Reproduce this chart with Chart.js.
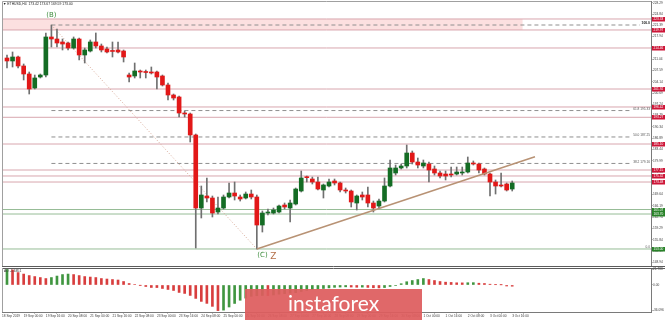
<!DOCTYPE html>
<html>
<head>
<meta charset="utf-8">
<script src="https://cdn.jsdelivr.net/npm/chart.js@4.4.1/dist/chart.umd.min.js"></script>
<style>
  html, body { margin: 0; padding: 0; background: #fff; }
  #wrap { position: relative; width: 665px; height: 320px; overflow: hidden; }
  #main { position: absolute; left: 0; top: 0; }
  #ao { position: absolute; left: 0; top: 267px; }
  #brand {
    position: absolute; left: 245px; top: 289px; width: 177px; height: 31px;
    background: rgba(222, 92, 94, 0.93); color: #fff;
    font: 400 21px Lato, "Open Sans", sans-serif; text-align: center; line-height: 28px;
  }
</style>
</head>
<body>
<div id="wrap">
  <canvas id="main" width="665" height="267"></canvas>
  <canvas id="ao" width="665" height="53"></canvas>
  <div id="brand">instaforex</div>
</div>
<script>
// H4 bars, oldest first
const opens = [211.40, 210.49, 211.71, 208.96, 206.51, 202.23, 205.59, 206.20, 217.83, 217.21,
  216.30, 215.99, 214.46, 217.21, 212.32, 213.54, 216.30, 215.07, 214.16, 213.54,
  213.85, 213.54, 206.20, 205.90, 207.43, 207.12, 207.12, 207.12, 205.90, 203.15,
  200.09, 199.48, 194.58, 194.28, 187.86, 165.53, 169.20, 168.59, 164.31, 165.53,
  168.90, 170.12, 168.90, 168.59, 169.81, 168.90, 160.33, 164.00, 164.00, 164.31,
  166.45, 165.53, 166.76, 170.73, 175.00, 174.40, 173.48, 171.04, 172.26, 173.79,
  173.18, 171.04, 170.73, 167.06, 169.51, 169.51, 167.06, 166.14, 167.67, 172.26,
  176.24, 177.77, 178.38, 182.35, 179.60, 178.38, 178.99, 177.46, 176.24, 175.93,
  175.93, 175.93, 176.24, 176.54, 179.29, 178.99, 177.46, 175.93, 173.48, 172.57,
  172.87, 171.34];
const highs = [212.32, 213.24, 212.02, 209.57, 207.12, 206.20, 206.51, 219.05, 221.49, 220.27,
  217.21, 216.30, 217.83, 217.52, 214.46, 216.91, 219.05, 215.68, 214.77, 216.30,
  216.30, 213.85, 206.82, 209.87, 207.73, 207.73, 208.65, 207.43, 206.20, 203.76,
  200.39, 199.78, 195.20, 194.58, 188.16, 172.26, 174.71, 169.20, 168.90, 169.51,
  173.18, 173.48, 169.51, 170.43, 171.04, 169.51, 164.62, 165.23, 165.53, 166.45,
  167.06, 167.98, 171.65, 176.85, 175.32, 175.01, 175.01, 172.87, 174.40, 174.40,
  173.48, 171.65, 171.04, 169.51, 170.43, 171.96, 167.67, 168.29, 174.71, 180.21,
  178.68, 178.99, 184.80, 182.96, 180.82, 180.21, 179.60, 178.38, 176.85, 176.85,
  178.07, 178.07, 178.07, 181.13, 179.91, 179.29, 177.77, 176.24, 174.10, 176.24,
  173.18, 173.79];
const lows = [208.35, 208.65, 208.35, 204.68, 200.39, 201.92, 205.29, 205.59, 214.77, 214.77,
  213.85, 213.85, 214.16, 210.79, 209.87, 213.24, 214.46, 213.24, 212.93, 211.71,
  212.93, 210.18, 204.06, 205.29, 205.29, 205.29, 206.51, 201.92, 202.84, 198.56,
  198.56, 193.36, 193.36, 185.72, 153.30, 162.48, 167.37, 162.78, 163.70, 165.23,
  168.59, 167.98, 167.67, 168.29, 168.29, 153.00, 158.19, 163.39, 163.70, 164.00,
  165.23, 161.25, 166.45, 170.43, 173.48, 172.87, 171.04, 168.59, 171.96, 172.57,
  170.43, 170.12, 165.84, 164.92, 167.98, 165.84, 164.31, 165.53, 167.37, 171.96,
  175.62, 177.46, 177.77, 178.99, 177.77, 177.77, 173.48, 175.62, 174.71, 174.10,
  175.01, 175.62, 175.62, 176.24, 178.68, 176.24, 175.62, 169.20, 169.81, 171.96,
  170.73, 170.73];
const closes = [210.49, 211.71, 208.96, 206.51, 201.92, 205.29, 206.20, 217.83, 217.21, 215.99,
  215.68, 214.46, 217.21, 212.32, 213.85, 216.30, 215.07, 213.85, 213.24, 213.40,
  213.24, 211.71, 205.59, 207.43, 207.12, 206.97, 206.82, 205.59, 203.15, 200.09,
  199.17, 194.58, 194.28, 187.86, 165.53, 169.51, 168.59, 164.00, 165.53, 168.90,
  170.12, 169.20, 168.29, 169.81, 168.90, 160.33, 164.00, 164.31, 164.92, 166.14,
  165.84, 167.06, 171.34, 174.71, 174.80, 173.48, 171.34, 172.57, 173.48, 173.18,
  171.04, 170.73, 167.37, 169.20, 168.90, 167.06, 165.53, 167.67, 172.26, 177.77,
  177.77, 178.38, 182.35, 179.60, 178.68, 179.29, 177.15, 176.24, 175.32, 175.32,
  175.62, 176.54, 176.54, 179.29, 178.99, 177.15, 175.93, 173.48, 172.26, 172.26,
  171.04, 173.18];

// Awesome Oscillator, one value per bar
const aoValues = [21.79, 21.2, 17.5, 15.4, 13.3, 11.9, 10.5, 9.1, 10.5, 12.6,
  14.7, 15.4, 14.7, 13.3, 11.9, 11.2, 10.5, 9.1, 8.4, 7.7,
  7.0, 4.9, 2.1, 0.7, -0.3, -2.1, -3.5, -3.6, -4.9, -6.3,
  -7.7, -10.5, -11.9, -14.7, -18.9, -23.1, -25.9, -30.1, -36.1, -35.4,
  -31.0, -26.0, -21.5, -18.5, -16.0, -15.2, -14.8, -15.0, -14.1, -13.0,
  -12.2, -11.5, -10.9, -9.2, -7.6, -6.4, -5.5, -4.9, -4.1, -3.3,
  -2.9, -2.6, -2.9, -3.2, -3.0, -3.4, -3.9, -4.1, -3.6, -2.1,
  -0.6, 1.8, 4.6, 6.3, 7.7, 9.1, 7.7, 6.3, 4.9, 4.0,
  3.6, 3.1, 3.0, 3.2, 3.3, 2.5, 2.1, 1.1, 0.4, 0.2,
  -1.4, -1.69];

// axis ticks
const priceTicks = [228.29, 224.84, 221.39, 217.94, 214.49, 211.04, 207.59, 204.14, 200.69, 197.24,
  193.79, 190.34, 186.89, 183.44, 179.99, 176.54, 173.09, 169.64, 166.19, 162.74,
  159.29, 155.84, 152.39, 148.94];
const aoTicks = [21.788, 0, -36.096];
const timeTickIdx = [-0.9, 3, 7, 11, 15, 19, 23, 27, 31, 35, 39, 43, 47, 51, 55, 59, 63, 67, 71, 75, 79, 83, 87, 91];
const timeLabels = ['18 Sep 2019', '19 Sep 00:00', '19 Sep 16:00', '20 Sep 08:00', '21 Sep 00:00', '21 Sep 16:00',
  '22 Sep 08:00', '23 Sep 00:00', '23 Sep 16:00', '24 Sep 08:00', '25 Sep 00:00', '25 Sep 16:00',
  '26 Sep 08:00', '27 Sep 00:00', '27 Sep 16:00', '28 Sep 08:00', '29 Sep 00:00', '29 Sep 16:00',
  '30 Sep 08:00', '1 Oct 00:00', '1 Oct 16:00', '2 Oct 08:00', '3 Oct 00:00', '3 Oct 16:00'];

// drawn levels
const redLevels = [223.33, 219.97, 214.46, 201.92, 196.42, 193.27, 185.10, 177.15, 175.32, 173.48];
const greenLevels = [165.07, 163.70, 153.00];
const zoneLevels = [223.33, 219.97];
const zoneEndIdx = 92.9;
const fibLevels = [221.49, 195.33, 187.25, 179.16];
const fibNames = ['100.0', '61.8', '50.0', '38.2'];
const fibZero = 153.00;
const pointB = [8, 221.49];
const pointC = [45, 153.00];
const trendEnd = [95.1, 181.22];

const title = '\u25BC ETHUSD,H4  173.42 173.67 169.59 173.00';
const aoTitle = 'AO -1.6851';

const xMin = -0.9, xMax = 116.0;
const priceMin = 147.80, priceMax = 228.83;
const aoMin = -38.05, aoMax = 23.95;

const RED = 'rgb(226, 24, 24)';
const GREEN = 'rgb(20, 108, 36)';
const WICK = '#707070';
const PINK = 'rgb(216, 166, 174)';
const LEVEL_GREEN = 'rgb(150, 188, 150)';
const FIB = '#8f8f8f';
const AXIS = '#7a7a7a';
const TXT = '#3a3a3a';
const FONT = '"Liberation Sans", Arial, sans-serif';

function lineSet(points, color, width, dash, order) {
  return {
    type: 'line', data: points, borderColor: color, borderWidth: width,
    borderDash: dash, pointRadius: 0, fill: false, order: order
  };
}

function initMain() {
  const bodies = opens.map((o, i) => ({ x: i, y: [o, closes[i]] }));
  const wicks = opens.map((o, i) => ({ x: i, y: [lows[i], highs[i]] }));
  const bodyColors = opens.map((o, i) => closes[i] >= o ? GREEN : RED);

  const levels = [];
  redLevels.forEach(v => levels.push(lineSet([{ x: xMin, y: v }, { x: xMax, y: v }], PINK, 1, [], 6)));
  greenLevels.forEach(v => levels.push(lineSet([{ x: xMin, y: v }, { x: xMax, y: v }], LEVEL_GREEN, 1, [], 6)));
  fibLevels.forEach((v, k) => levels.push(lineSet(
    [{ x: pointB[0], y: v }, { x: k === 0 ? 114 : 112.5, y: v }], FIB, 1, [4, 3], 5)));

  const zone = {
    type: 'line',
    data: [{ x: xMin, y: zoneLevels[0] }, { x: zoneEndIdx, y: zoneLevels[0] }],
    borderWidth: 0, pointRadius: 0, fill: { value: zoneLevels[1] },
    backgroundColor: 'rgba(251, 216, 216, 0.8)', order: 8
  };

  const zigzag = lineSet([{ x: pointB[0], y: pointB[1] }, { x: pointC[0], y: pointC[1] }],
    'rgb(214, 168, 150)', 1, [1, 2], 4);
  const trend = lineSet([{ x: pointC[0], y: pointC[1] }, { x: trendEnd[0], y: trendEnd[1] }],
    'rgb(184, 146, 116)', 1.5, [], -1);

  const mainDecor = {
    id: 'mainDecor',
    afterDraw(chart) {
      const { ctx, chartArea: a, scales: { x, y } } = chart;
      ctx.save();
      // panel frame
      ctx.lineWidth = 1;
      ctx.strokeStyle = '#a0a0a0';
      ctx.beginPath();
      ctx.moveTo(a.left + 0.5, a.bottom);
      ctx.lineTo(a.left + 0.5, a.top + 0.5);
      ctx.lineTo(a.right, a.top + 0.5);
      ctx.stroke();
      ctx.strokeStyle = '#5c5c5c';
      ctx.beginPath();
      ctx.moveTo(a.left, a.bottom + 0.5);
      ctx.lineTo(chart.width, a.bottom + 0.5);
      ctx.stroke();

      // symbol title
      ctx.fillStyle = '#222';
      ctx.font = '3.4px ' + FONT;
      ctx.textAlign = 'left';
      ctx.textBaseline = 'middle';
      ctx.fillText(title, a.left + 1, a.top + 3.5);

      // fibonacci labels
      ctx.textAlign = 'right';
      ctx.textBaseline = 'alphabetic';
      fibLevels.forEach((v, k) => {
        const py = y.getPixelForValue(v) - 0.6;
        if (k === 0) {
          ctx.font = 'bold 3.4px ' + FONT;
          ctx.fillStyle = '#111';
          ctx.fillText(fibNames[k], a.right - 1, py);
        } else {
          ctx.font = '3.2px ' + FONT;
          ctx.fillStyle = '#555';
          ctx.fillText(fibNames[k] + ' ' + v.toFixed(2), a.right - 1, py);
        }
      });
      ctx.font = '3.2px ' + FONT;
      ctx.fillStyle = '#555';
      ctx.fillText('0.0', a.right - 1, y.getPixelForValue(fibZero) - 0.6);

      // wave labels
      ctx.textAlign = 'center';
      ctx.font = '7px "DejaVu Sans", sans-serif';
      ctx.fillStyle = 'rgb(60, 140, 60)';
      ctx.fillText('(B)', x.getPixelForValue(pointB[0]), y.getPixelForValue(pointB[1]) - 8);
      ctx.textAlign = 'left';
      ctx.fillText('(C)', x.getPixelForValue(pointC[0]) + 0.5, y.getPixelForValue(pointC[1]) + 8.5);
      ctx.font = '9px "DejaVu Sans", sans-serif';
      ctx.fillStyle = 'rgb(180, 112, 74)';
      ctx.fillText('Z', x.getPixelForValue(pointC[0] + 2.4), y.getPixelForValue(pointC[1]) + 10.5);

      // price boxes on the axis
      ctx.font = '3.2px ' + FONT;
      ctx.textBaseline = 'middle';
      const box = (v, color) => {
        const py = Math.round(y.getPixelForValue(v));
        ctx.fillStyle = color;
        ctx.fillRect(a.right + 1, py - 2, chart.width - a.right - 1, 4.5);
        ctx.fillStyle = '#fff';
        ctx.fillText(v.toFixed(2), a.right + 2.5, py + 0.3);
      };
      redLevels.forEach(v => box(v, 'rgb(205, 22, 56)'));
      greenLevels.forEach(v => box(v, 'rgb(40, 130, 40)'));
      ctx.restore();
    }
  };

  new Chart(document.getElementById('main'), {
    type: 'bar',
    data: {
      datasets: [
        { data: bodies, backgroundColor: bodyColors, barThickness: 4, minBarLength: 1,
          grouped: false, borderWidth: 0, order: 0 },
        { data: wicks, backgroundColor: WICK, barThickness: 1,
          grouped: false, borderWidth: 0, order: 1 },
        trend, zigzag, zone, ...levels
      ]
    },
    options: {
      responsive: false, animation: false, devicePixelRatio: 1,
      layout: { padding: { left: 2, top: 1, right: 0, bottom: 1 } },
      plugins: { legend: { display: false }, tooltip: { enabled: false } },
      scales: {
        x: { type: 'linear', min: xMin, max: xMax, offset: false, display: false },
        y: {
          position: 'right', min: priceMin, max: priceMax,
          afterBuildTicks: s => { s.ticks = priceTicks.map(v => ({ value: v })); },
          afterFit: s => { s.width = 14; s.paddingTop = 0; s.paddingBottom = 0; },
          ticks: { font: { size: 3.2, family: FONT }, color: TXT, padding: 0.5,
                   callback: v => v.toFixed(2) },
          grid: { drawOnChartArea: false, tickLength: 1.5, color: AXIS },
          border: { color: AXIS }
        }
      }
    },
    plugins: [mainDecor]
  });
}

function initAO() {
  const aoColors = aoValues.map((v, i) => (i === 0 || v > aoValues[i - 1]) ? 'rgb(64, 150, 64)' : 'rgb(216, 62, 62)');

  const aoDecor = {
    id: 'aoDecor',
    afterDraw(chart) {
      const { ctx, chartArea: a } = chart;
      ctx.save();
      ctx.lineWidth = 1;
      ctx.strokeStyle = '#5c5c5c';
      ctx.beginPath();
      ctx.moveTo(a.left, a.top + 0.5);
      ctx.lineTo(chart.width, a.top + 0.5);
      ctx.stroke();
      ctx.strokeStyle = '#a0a0a0';
      ctx.beginPath();
      ctx.moveTo(a.left + 0.5, a.top);
      ctx.lineTo(a.left + 0.5, a.bottom);
      ctx.stroke();
      ctx.fillStyle = '#333';
      ctx.font = '3.4px ' + FONT;
      ctx.textBaseline = 'middle';
      ctx.fillText(aoTitle, a.left + 2, a.top + 3.5);
      ctx.restore();
    }
  };

  new Chart(document.getElementById('ao'), {
    type: 'bar',
    data: {
      datasets: [{
        data: aoValues.map((v, i) => ({ x: i, y: v })),
        backgroundColor: aoColors, barThickness: 2, grouped: false, borderWidth: 0
      }]
    },
    options: {
      responsive: false, animation: false, devicePixelRatio: 1,
      layout: { padding: { left: 2, top: 1, right: 0, bottom: 0 } },
      plugins: { legend: { display: false }, tooltip: { enabled: false } },
      scales: {
        x: {
          type: 'linear', min: xMin, max: xMax, offset: false, position: 'bottom',
          afterBuildTicks: s => { s.ticks = timeTickIdx.map(v => ({ value: v })); },
          afterFit: s => { s.height = 8; s.paddingLeft = 0; s.paddingRight = 0; },
          ticks: { autoSkip: false, maxRotation: 0, minRotation: 0, align: 'start', padding: 0.5,
                   font: { size: 3.2, family: FONT }, color: TXT,
                   callback: (v, k) => timeLabels[k] },
          grid: { drawOnChartArea: false, tickLength: 1.5, color: AXIS },
          border: { color: AXIS }
        },
        y: {
          position: 'right', min: aoMin, max: aoMax,
          afterBuildTicks: s => { s.ticks = aoTicks.map(v => ({ value: v })); },
          afterFit: s => { s.width = 14; s.paddingTop = 0; s.paddingBottom = 0; },
          ticks: { font: { size: 3.2, family: FONT }, color: TXT, padding: 0.5,
                   callback: v => v === 0 ? '0.00' : v.toFixed(3) },
          grid: { drawOnChartArea: false, tickLength: 1.5, color: AXIS },
          border: { color: AXIS }
        }
      }
    },
    plugins: [aoDecor]
  });
}

initMain();
initAO();
</script>
</body>
</html>
